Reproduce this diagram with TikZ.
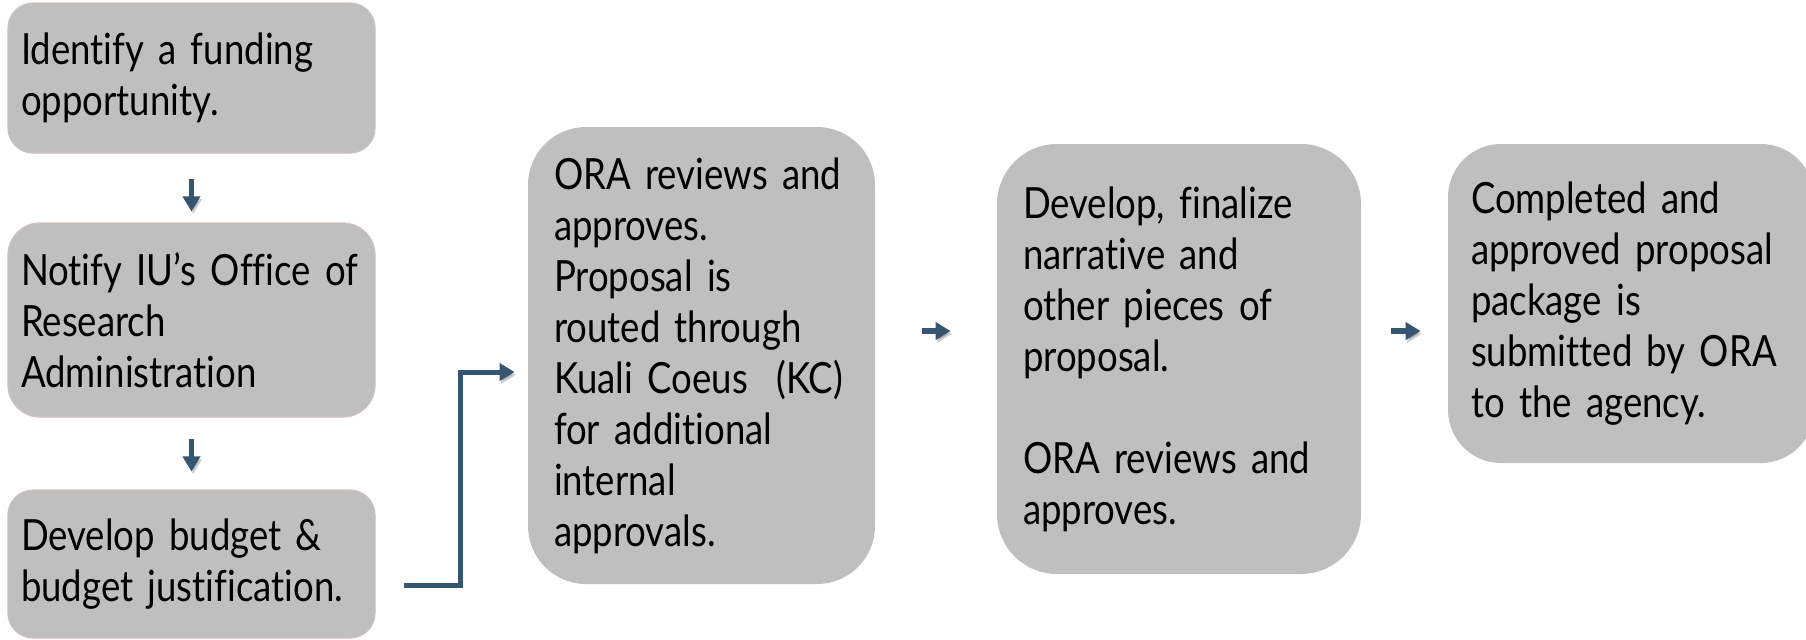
\documentclass[tikz,border=0pt]{standalone}
\usepackage{fontspec}
\setmainfont{Lato}[Ligatures=NoCommon]
\newfontfamily\leftface{Lato}[FakeStretch=0.85,Ligatures=NoCommon]
\newfontfamily\condface{Lato}[FakeStretch=0.85,Ligatures=NoCommon]
\usetikzlibrary{arrows.meta}

\definecolor{boxgray}{RGB}{191,191,191}
\definecolor{boxedge}{RGB}{203,193,189}
\definecolor{flowblue}{RGB}{54,85,112}

\tikzset{
  stepbox/.style={rectangle, fill=boxgray, align=left, inner ysep=0pt,
    font=\fontsize{21.5pt}{25.5pt}\selectfont},
  leftbox/.style={stepbox, draw=boxedge, line width=0.6pt,
    minimum width=183.5pt, text width=170.5pt, inner xsep=6.5pt,
    font=\leftface\fontsize{21.5pt}{25.5pt}\selectfont},
  rightbox/.style={stepbox,
    font=\condface\fontsize{21.5pt}{25.5pt}\selectfont},
  flow/.style={draw=flowblue, line width=2.7pt, line join=miter,
    -{Triangle[length=7.5pt,width=8.5pt]},
    preaction={draw=black, opacity=0.18,
      transform canvas={shift={(0.8pt,-1.4pt)}}}}
}

\begin{document}
\hyphenpenalty=10000
\exhyphenpenalty=10000
\begin{tikzpicture}[x=0.5pt,y=-0.5pt]
\useasboundingbox (0,0) rectangle (1806,639);

% left column
\node[leftbox, minimum height=75pt, rounded corners=12.5pt] (b1) at (191.5,78)
  {Identify a funding\\opportunity.};
\node[leftbox, minimum height=97pt, rounded corners=16pt] (b2) at (191.5,320)
  {\mbox{Notify IU’s Office of}\\Research\\Administration};
\node[leftbox, minimum height=74pt, rounded corners=12.5pt] (b3) at (191.5,564)
  {Develop budget \&\\\mbox{budget justification.}};

% review, drafting and submission steps
\node[rightbox, minimum width=173.5pt, minimum height=228.5pt, text width=147.5pt,
      inner xsep=13pt, rounded corners=29pt] (b4) at (701.5,355.5)
  {ORA reviews and\\approves.\\Proposal is\\routed through\\Kuali Coeus\ \ (KC)\\for additional\\internal\\approvals.};
\node[rightbox, minimum width=182pt, minimum height=215pt, text width=156pt,
      inner xsep=13pt, rounded corners=30pt] (b5) at (1179,359)
  {Develop, finalize\\narrative and\\other pieces of\\proposal.\\[25.5pt]ORA reviews and\\approves.};
\node[rightbox, minimum width=183pt, minimum height=159.5pt, text width=160pt,
      inner xsep=11.5pt, rounded corners=26.5pt] (b6) at (1631,303.5)
  {Completed and\\approved proposal\\package is\\submitted by ORA\\to the agency.};

% connectors
\draw[flow, shorten <=12.5pt, shorten >=5.5pt] (b1.south) -- (b2.north);
\draw[flow, shorten <=10.5pt, shorten >=9pt] (b2.south) -- (b3.north);
\draw[flow, line width=2.5pt] ([xshift=14pt,yshift=-10.5pt]b3.east) -- ++(57,0)
  |- ([xshift=-6.5pt,yshift=-8.25pt]b4.west);
\draw[flow, shorten <=23.5pt, shorten >=23pt] ([yshift=12.25pt]b4.east) -- ([yshift=14pt]b5.west);
\draw[flow, shorten <=15pt, shorten >=13.5pt] ([yshift=14pt]b5.east) -- ([yshift=-13.75pt]b6.west);
\end{tikzpicture}
\end{document}
